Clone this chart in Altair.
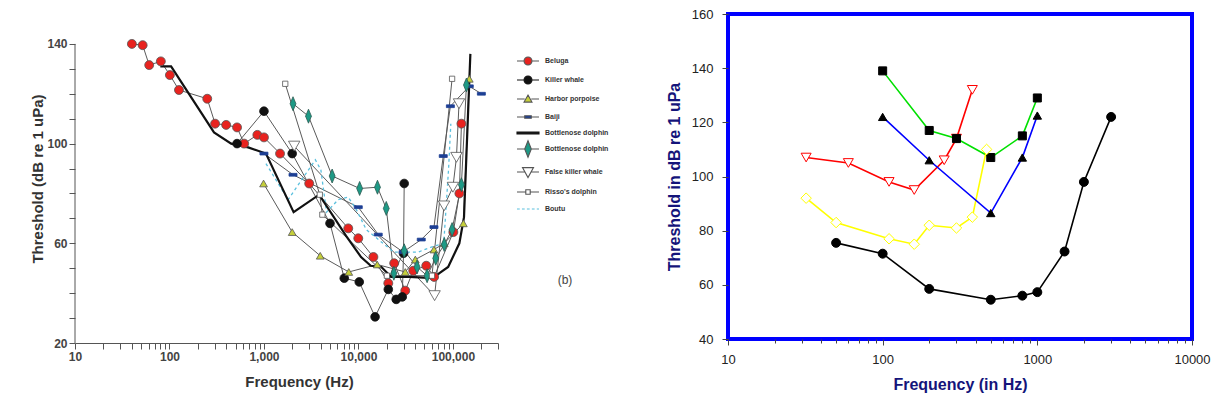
import altair as alt
import pandas as pd

FONT = "Liberation Sans"

# ---------------- Left panel: odontocete audiograms ----------------
beluga_hz = [40, 52, 61, 81, 101, 126, 251, 304, 398, 519, 617, 851, 1000, 1480, 3010,
             7800, 9960, 14400, 20700, 23900, 31300, 38000, 52200, 63200, 101000, 117000, 123000]
beluga_db = [140, 139.5, 131.5, 133, 127.5, 121.5, 118, 108, 107.5, 106.5, 100, 103.5, 102.5, 96, 84,
             66, 62, 54.5, 44, 52, 41, 49, 51, 46.5, 64.5, 80, 108]

killer_hz = [519, 1000, 1990, 5000, 7080, 10200, 15000, 20700, 25100, 29100, 30000, 30500]
killer_db = [100, 113, 96, 68, 46, 44.5, 30.5, 41.5, 37.5, 38.5, 56, 84]

porpoise_hz = [990, 1990, 3940, 7900, 15800, 31300, 40000, 63000, 81000, 129000, 149000]
porpoise_db = [84, 64.5, 55, 48.5, 51.5, 48.5, 53.5, 57.5, 60, 68, 126]

baiji_hz = [1000, 2030, 9960, 16200, 29700, 46200, 63000, 79000, 94000, 149000, 200000]
baiji_db = [96, 87.5, 74.5, 63.5, 56.5, 61.5, 66.5, 95, 115, 123, 120]

bottlenose_hz = [80, 104, 296, 450, 680, 1050, 2060, 3840, 7400, 10650, 13500, 17500, 22200,
                 34400, 61600, 72000, 89000, 117000, 131000, 153000]
bottlenose_db = [131, 131, 104.5, 100, 98.5, 96, 72.5, 79.5, 63, 54.5, 51, 50.5, 46.5,
                 46.5, 46, 48, 50.5, 60, 70.5, 136]

bottlenose2_hz = [2030, 2960, 5270, 10300, 15900, 19700, 23700, 30500, 41700, 53300, 65800,
                  81000, 98000, 123000, 139000]
bottlenose2_db = [116, 111, 87, 82, 82.5, 74, 48, 57, 50.5, 47, 54, 59.5, 65.5, 83.5, 123.5]

falsekiller_hz = [2090, 64000, 80500, 100000, 109000, 116000]
falsekiller_db = [99, 39, 75, 82.5, 94.5, 116]

risso_hz = [1680, 3900, 4150, 20000, 60000, 98000]
risso_db = [124, 79.5, 71.5, 47, 47, 126]

boutu_hz = [1050, 1800, 3500, 4000, 4600, 6100, 7800, 9500, 12100, 23600, 43000, 59000,
            80000, 90000, 95000]
boutu_db = [92, 77.5, 93.5, 89.5, 72.5, 77.5, 78.5, 73.5, 65.5, 56.5, 56.5, 58.5, 60, 90, 108]

left_species = ["Beluga", "Killer whale", "Harbor porpoise", "Baiji", "Bottlenose dolphin",
                "Bottlenose dolphin 2", "False killer whale", "Risso's dolphin", "Boutu"]
left_hz = [beluga_hz, killer_hz, porpoise_hz, baiji_hz, bottlenose_hz, bottlenose2_hz,
           falsekiller_hz, risso_hz, boutu_hz]
left_db = [beluga_db, killer_db, porpoise_db, baiji_db, bottlenose_db, bottlenose2_db,
           falsekiller_db, risso_db, boutu_db]

# ---------------- Right panel: fish audiograms ----------------
carassius_hz = [50, 100, 200, 500, 800, 1000, 1500, 2000, 3000]
carassius_db = [75.5, 71.5, 58.5, 54.5, 56, 57.3, 72.3, 98, 122]

salmo_hz = [32, 60, 110, 160, 250, 300, 380]
salmo_db = [107, 105, 98, 95, 106, 114, 132]

euthynnus_hz = [100, 200, 300, 500, 800, 1000]
euthynnus_db = [139, 117, 114, 107, 115, 129]

gadus_hz = [32, 50, 110, 160, 200, 300, 380, 470]
gadus_db = [92, 83, 77, 75, 82, 81, 85, 110]

eupomacentrus_hz = [100, 200, 500, 800, 1000]
eupomacentrus_db = [122, 106, 86.5, 107, 122.5]

right_species = ["Carassius", "Salmo", "Euthynnus", "Gadus", "Eupomacentrus"]
right_hz = [carassius_hz, salmo_hz, euthynnus_hz, gadus_hz, eupomacentrus_hz]
right_db = [carassius_db, salmo_db, euthynnus_db, gadus_db, eupomacentrus_db]


def long_table(names, hz_lists, db_lists):
    rows = []
    for name, hz, db in zip(names, hz_lists, db_lists):
        rows.extend({"species": name, "hz": h, "db": d} for h, d in zip(hz, db))
    return pd.DataFrame(rows)


left_df = long_table(left_species, left_hz, left_db)
right_df = long_table(right_species, right_hz, right_db)


def circle(r):
    return f"M-{r},0A{r},{r},0,1,1,{r},0A{r},{r},0,1,1,-{r},0Z"


def whiskers(gap, reach=1):
    return f"M-{reach},0L-{gap},0M{gap},0L{reach},0"


def only(df_chart, name):
    return df_chart.transform_filter(alt.datum.species == name)


# ---------------- Left panel ----------------
left_ticks_x = [m * 10 ** e for e in range(1, 6) for m in range(1, 10) if m * 10 ** e <= 300000]
decades_left = "[10,100,1000,10000,100000]"

x_left = alt.X(
    "hz:Q",
    scale=alt.Scale(type="log", domain=[10, 300000]),
    axis=alt.Axis(
        values=left_ticks_x,
        labelExpr=f"indexof({decades_left}, datum.value) >= 0 ? format(datum.value, ',') : ''",
        tickSize=6, labelOverlap=False, labelFlush=False, grid=False,
        title="Frequency (Hz)", titleFont=FONT, titleFontSize=15, titleFontWeight="bold",
        titleColor="#333", titlePadding=12, titleX=224,
        labelFont=FONT, labelFontSize=12, labelFontWeight="bold", labelColor="#444", labelPadding=2,
        domainColor="#555", tickColor="#555",
    ),
)
y_left = alt.Y(
    "db:Q",
    scale=alt.Scale(domain=[20, 152]),
    axis=alt.Axis(
        values=list(range(20, 141, 10)),
        labelExpr="datum.value % 40 == 20 ? datum.label : ''",
        tickSize=6, labelOverlap=False, labelFlush=False, grid=False, domain=False,
        title="Threshold (dB re 1 uPa)", titleFont=FONT, titleFontSize=15, titleFontWeight="bold",
        titleColor="#333", titlePadding=1,
        labelFont=FONT, labelFontSize=12, labelFontWeight="bold", labelColor="#444", labelPadding=2,
        tickColor="#555",
    ),
)

# marker style per series: (name, shape, size, fill, stroke)
left_markers = [
    ("Beluga", "circle", 80, "#e8231f", "#555555"),
    ("Killer whale", "circle", 75, "#111111", "#111111"),
    ("Harbor porpoise", "triangle-up", 60, "#c5cf3a", "#555555"),
    ("Baiji", "M-1,-0.35L1,-0.35L1,0.35L-1,0.35Z", 64, "#1d3f94", "#1d3f94"),
    ("Bottlenose dolphin 2", "M0,-1L0.42,0L0,1L-0.42,0Z", 196, "#1e9a86", "#2d5a52"),
    ("False killer whale", "triangle-down", 130, "#ffffff", "#555555"),
    ("Risso's dolphin", "square", 28, "#ffffff", "#555555"),
]
marker_names_left = [m[0] for m in left_markers]

legend_shapes_left = [
    whiskers(0.36) + circle(0.36),
    whiskers(0.36) + circle(0.36),
    whiskers(0.3) + "M0,-0.36L0.36,0.28L-0.36,0.28Z",
    whiskers(0.3) + "M-0.3,-0.12L0.3,-0.12L0.3,0.12L-0.3,0.12Z",
    "M-1,-0.08L1,-0.08L1,0.08L-1,0.08Z",
    whiskers(0.28) + "M0,-0.75L0.3,0L0,0.75L-0.3,0Z",
    whiskers(0.28) + "M-0.5,-0.4L0.5,-0.4L0,0.5Z",
    whiskers(0.2) + "M-0.2,-0.2L0.2,-0.2L0.2,0.2L-0.2,0.2Z",
    "M-1,0L-0.75,0M-0.55,0L-0.3,0M-0.1,0L0.15,0M0.35,0L0.6,0M0.8,0L1,0",
]
legend_fill_left = ["#e8231f", "#111111", "#c5cf3a", "#1d3f94", "#111111", "#1e9a86",
                    "#ffffff", "#ffffff", "transparent"]
legend_stroke_left = ["#555555", "#111111", "#555555", "#555555", "#111111", "#555555",
                      "#555555", "#555555", "#5bc0de"]

left_legend = alt.Legend(
    title=None, orient="none", legendX=441, legendY=35, padding=0, rowPadding=0,
    symbolSize=484, labelOffset=5, symbolStrokeWidth=1.1,
    labelExpr="datum.label == 'Bottlenose dolphin 2' ? 'Bottlenose dolphin' : datum.label",
    labelFont=FONT, labelFontSize=7, labelFontWeight="bold", labelFontStyle="normal", labelColor="#333",
)

base_left = alt.Chart(left_df)

thin_lines = base_left.transform_filter(
    alt.FieldOneOfPredicate(field="species", oneOf=marker_names_left)
).mark_line(color="#5a5a5a", strokeWidth=1).encode(x=x_left, y=y_left, detail="species:N")

thick_line = only(base_left, "Bottlenose dolphin").mark_line(
    color="#111111", strokeWidth=2.2).encode(x=x_left, y=y_left)

dashed_line = only(base_left, "Boutu").mark_line(
    color="#5bc0de", strokeWidth=1.3, strokeDash=[3, 3]).encode(x=x_left, y=y_left)

left_points = [
    only(base_left, name).mark_point(
        shape=shape, size=size, fill=fill, stroke=stroke, filled=True, opacity=1, strokeWidth=0.8
    ).encode(x=x_left, y=y_left)
    for name, shape, size, fill, stroke in left_markers
]

left_key = base_left.transform_filter("false").mark_point(opacity=1, strokeWidth=1.1).encode(
    x=x_left, y=y_left,
    shape=alt.Shape("species:N", scale=alt.Scale(domain=left_species, range=legend_shapes_left), legend=left_legend),
    fill=alt.Fill("species:N", scale=alt.Scale(domain=left_species, range=legend_fill_left), legend=left_legend),
    stroke=alt.Stroke("species:N", scale=alt.Scale(domain=left_species, range=legend_stroke_left), legend=left_legend),
)

axis_line = alt.Chart(pd.DataFrame({"hz": [10], "db": [20], "db2": [140]})).mark_rule(
    color="#555555", strokeWidth=1
).encode(x=x_left, y=y_left, y2="db2:Q")

panel_tag = alt.Chart(pd.DataFrame({"tag": ["(b)"]})).mark_text(
    font=FONT, fontSize=12, color="#444444"
).encode(x=alt.value(490), y=alt.value(266), text="tag:N")

left = alt.layer(
    axis_line, thin_lines, dashed_line, thick_line, *left_points, left_key, panel_tag
).properties(width=423, height=329, view=alt.ViewBackground(stroke="transparent"))

# ---------------- Right panel ----------------
right_ticks_x = [m * 10 ** e for e in range(1, 4) for m in range(1, 10)] + [10000]
decades_right = "[10,100,1000,10000]"

x_right = alt.X(
    "hz:Q",
    scale=alt.Scale(type="log", domain=[10, 10000]),
    axis=alt.Axis(
        values=right_ticks_x,
        labelExpr=f"indexof({decades_right}, datum.value) >= 0 ? format(datum.value, 'd') : ''",
        tickSize={"condition": {"test": f"indexof({decades_right}, datum.value) >= 0", "value": 6}, "value": 4},
        labelOverlap=False, labelFlush=False, grid=False, domain=False,
        title="Frequency (in Hz)", titleFont=FONT, titleFontSize=16, titleFontWeight="bold",
        titleColor="#14147a", titlePadding=10,
        labelFont=FONT, labelFontSize=13, labelColor="#222", labelPadding=8,
        tickColor="#444",
    ),
)
y_right = alt.Y(
    "db:Q",
    scale=alt.Scale(domain=[40, 160]),
    axis=alt.Axis(
        values=list(range(40, 161, 20)),
        tickSize=6, labelOverlap=False, labelFlush=False, grid=False, domain=False,
        title="Threshold in dB re 1 uPa", titleFont=FONT, titleFontSize=16, titleFontWeight="bold",
        titleColor="#14147a", titlePadding=9,
        labelFont=FONT, labelFontSize=13, labelColor="#222", labelPadding=9,
        tickColor="#444",
    ),
)

line_colors_right = ["#000000", "#ff0000", "#00e000", "#ffff00", "#0000ff"]

# marker style per series: (name, shape, size, fill, stroke)
right_markers = [
    ("Carassius", "circle", 80, "#000000", "#000000"),
    ("Salmo", "triangle-down", 100, "#ffffff", "#ff0000"),
    ("Euthynnus", "square", 64, "#000000", "#000000"),
    ("Gadus", "diamond", 110, "#ffffff", "#ffff00"),
    ("Eupomacentrus", "triangle-up", 70, "#000000", "#000000"),
]

legend_shapes_right = [
    whiskers(0.6, 2.15) + circle(0.6),
    whiskers(0.38, 2.15) + "M-0.65,-0.45L0.65,-0.45L0,0.65Z",
    whiskers(0.55, 2.15) + "M-0.55,-0.55L0.55,-0.55L0.55,0.55L-0.55,0.55Z",
    whiskers(0.75, 2.15) + "M0,-0.75L0.75,0L0,0.75L-0.75,0Z",
    whiskers(0.35, 2.15) + "M0,-0.65L0.62,0.5L-0.62,0.5Z",
]
legend_fill_right = [m[3] for m in right_markers]

right_legend = alt.Legend(
    title=None, orient="none", legendX=12, legendY=243, padding=0, rowPadding=0,
    symbolSize=196, labelOffset=14, symbolStrokeWidth=1.5,
    labelFont=FONT, labelFontSize=13, labelFontStyle="italic", labelFontWeight="normal", labelColor="#ff1a1a",
)

base_right = alt.Chart(right_df)

right_lines = base_right.mark_line(strokeWidth=1.6).encode(
    x=x_right, y=y_right,
    stroke=alt.Stroke("species:N", scale=alt.Scale(domain=right_species, range=line_colors_right), legend=None),
)

right_points = [
    only(base_right, name).mark_point(
        shape=shape, size=size, fill=fill, stroke=stroke, filled=True, opacity=1, strokeWidth=1
    ).encode(x=x_right, y=y_right)
    for name, shape, size, fill, stroke in right_markers
]

right_key = base_right.transform_filter("false").mark_point(opacity=1, strokeWidth=1.5).encode(
    x=x_right, y=y_right,
    shape=alt.Shape("species:N", scale=alt.Scale(domain=right_species, range=legend_shapes_right), legend=right_legend),
    fill=alt.Fill("species:N", scale=alt.Scale(domain=right_species, range=legend_fill_right), legend=right_legend),
    stroke=alt.Stroke("species:N", scale=alt.Scale(domain=right_species, range=line_colors_right), legend=right_legend),
)

right = alt.layer(right_lines, *right_points, right_key).properties(
    width=464, height=325, view=alt.ViewBackground(stroke="#0000ff", strokeWidth=4)
)

chart = alt.hconcat(left, right, spacing=54).resolve_scale(
    shape="independent", fill="independent", stroke="independent"
).properties(
    padding={"left": 30, "top": 6, "right": 0, "bottom": 5}
).configure(font=FONT, background="white")

chart.save("out.html", embed_options={"renderer": "svg", "actions": False})
